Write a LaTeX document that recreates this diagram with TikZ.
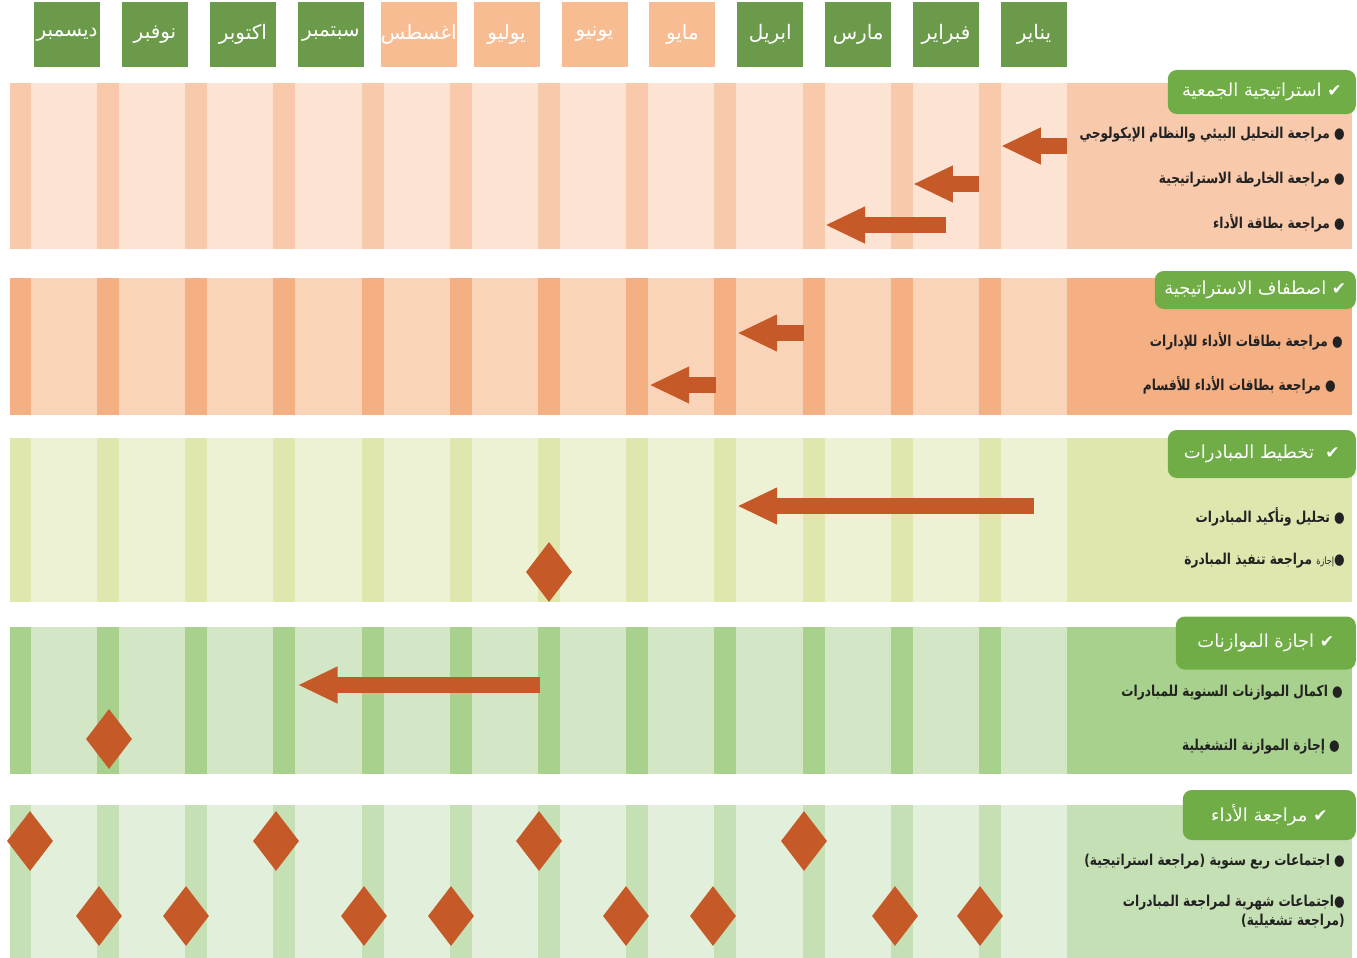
\documentclass[tikz,border=0pt]{standalone}
\usepackage{fontspec}
\usepackage{xcolor}
\usepackage{tikz}
\usetikzlibrary{arrows.meta,shapes.geometric,positioning}
\setmainfont[Script=Arabic]{DejaVu Sans}
\newfontfamily\itemfont[Script=Arabic,FakeStretch=0.81]{DejaVu Sans}
\TeXXeTstate=1

\definecolor{monthgreen}{HTML}{6B9A4A}
\definecolor{monthpeach}{HTML}{F8BC93}
\definecolor{tabgreen}{HTML}{70AD47}
\definecolor{planorange}{HTML}{C55A28}
\definecolor{textdark}{HTML}{222222}
\definecolor{peachA}{HTML}{FCE3D4}
\definecolor{peachAs}{HTML}{F8CAAB}
\definecolor{peachB}{HTML}{FAD4B9}
\definecolor{peachBs}{HTML}{F4AF82}
\definecolor{limeC}{HTML}{EEF2D5}
\definecolor{limeCs}{HTML}{DFE7AF}
\definecolor{greenD}{HTML}{D3E6C6}
\definecolor{greenDs}{HTML}{A9D18E}
\definecolor{greenE}{HTML}{E2EFDA}
\definecolor{greenEs}{HTML}{C5E0B4}

\newcommand{\rtltext}[1]{\beginR #1\endR}
\newcommand{\tick}{{\bfseries\fontsize{17}{18}\selectfont ✔}}

\begin{document}
\begin{tikzpicture}[x=1pt,y=-1pt,
    month/.style={minimum width=66pt,minimum height=65pt,inner sep=0pt,text=white,font=\fontsize{20}{24}\selectfont},
    tab/.style={fill=tabgreen,rounded corners=9pt,anchor=east,inner sep=0pt,text=white,font=\fontsize{18}{22}\selectfont},
    item/.style={anchor=east,inner sep=0pt,text=textdark,align=right,font=\itemfont\bfseries\fontsize{15}{19}\selectfont},
    bar/.style={draw=planorange,line width=16pt,-{Triangle[length=40pt,width=34pt]}},
    milestone/.style={diamond,fill=planorange,inner sep=0pt,minimum width=46pt,minimum height=60pt}]
    \useasboundingbox (0,0) rectangle (1357,958);

    % bands with month stripes
    \foreach \ya/\yb/\cell/\strip in {83/249/peachA/peachAs,278/415/peachB/peachBs,438/602/limeC/limeCs,627/774/greenD/greenDs,805/958/greenE/greenEs} {
        \fill[\cell] (10,\ya) rectangle (1067,\yb);
        \fill[\strip] (1067,\ya) rectangle (1352,\yb);
        \foreach \i in {0,...,11}
            \fill[\strip] ({max(10,979-88.2*\i)},\ya) rectangle ({1001-88.2*\i},\yb);
    }

    % months
    \foreach \name/\col [count=\i from 0] in {يناير/monthgreen,فبراير/monthgreen,مارس/monthgreen,ابريل/monthgreen,مايو/monthpeach,يونيو/monthpeach,يوليو/monthpeach,اغسطس/monthpeach,سبتمبر/monthgreen,اكتوبر/monthgreen,نوفبر/monthgreen,ديسمبر/monthgreen}
        \node[month,fill=\col] (m\i) at ({1034-87.9*\i},34.5) {\rtltext{\name}};

    % headers
    \node[tab,minimum width=188pt,minimum height=44pt] (t1) at (1356,92) {\rtltext{\tick\ استراتيجية الجمعية}};
    \node[tab,minimum width=201pt,minimum height=38pt] (t2) at (1356,290) {\rtltext{\tick\ اصطفاف الاستراتيجية}};
    \node[tab,minimum width=188pt,minimum height=48pt] (t3) at (1356,454) {\rtltext{\tick\ \ تخطيط المبادرات}};
    \node[tab,minimum width=180pt,minimum height=53pt] (t4) at (1356,643) {\rtltext{\tick\ اجازة الموازنات}};
    \node[tab,minimum width=173pt,minimum height=50pt] (t5) at (1356,815) {\rtltext{\tick\ مراجعة الأداء}};

    % activities
    \node[item] (a1) at (1345,135) {\rtltext{● مراجعة التحليل البيئي والنظام الإيكولوجي}};
    \node[item] (a2) at (1345,180) {\rtltext{● مراجعة الخارطة الاستراتيجية}};
    \node[item] (a3) at (1345,223) {\rtltext{● مراجعة بطاقة الأداء}};
    \node[item] (b1) at (1343,341) {\rtltext{● مراجعة بطاقات الأداء للإدارات}};
    \node[item] (b2) at (1336,385) {\rtltext{● مراجعة بطاقات الأداء للأقسام}};
    \node[item] (c1) at (1345,517) {\rtltext{● تحليل وتأكيد المبادرات}};
    \node[item] (c2) at (1345,561) {\rtltext{●{\mdseries\fontsize{10}{12}\selectfont إجازة} مراجعة تنفيذ المبادرة}};
    \node[item] (d1) at (1343,693) {\rtltext{● اكمال الموازنات السنوية للمبادرات}};
    \node[item] (d2) at (1340,747) {\rtltext{● إجازة الموازنة التشغيلية}};
    \node[item] (e1) at (1345,862) {\rtltext{● اجتماعات ربع سنوية (مراجعة استراتيجية)}};
    \node[item] (e2) at (1345,912) {\rtltext{●اجتماعات شهرية لمراجعة المبادرات}\\\rtltext{(مراجعة تشغيلية)}};

    % plan bars
    \draw[bar] (m0.east |- 0,146) -- (m0.west |- 0,146);
    \draw[bar] (m1.east |- 0,184) -- (m1.west |- 0,184);
    \draw[bar] (m1 |- 0,225) -- (m2.west |- 0,225);
    \draw[bar] (m3.east |- 0,333) -- (m3.west |- 0,333);
    \draw[bar] (m4.east |- 0,385) -- (m4.west |- 0,385);
    \draw[bar] (m0 |- 0,506) -- (m3.west |- 0,506);
    \draw[bar] (m6.east |- 0,685) -- (m8.west |- 0,685);

    % milestones
    \node[milestone] (k1) at (549,572) {};
    \node[milestone] (k2) at (109,739) {};
    \foreach \x [count=\j] in {30,276,539,804}
        \node[milestone] (q\j) at (\x,841) {};
    \foreach \x [count=\j] in {99,186,364,451,626,713,895,980}
        \node[milestone] (w\j) at (\x,916) {};
\end{tikzpicture}
\end{document}
